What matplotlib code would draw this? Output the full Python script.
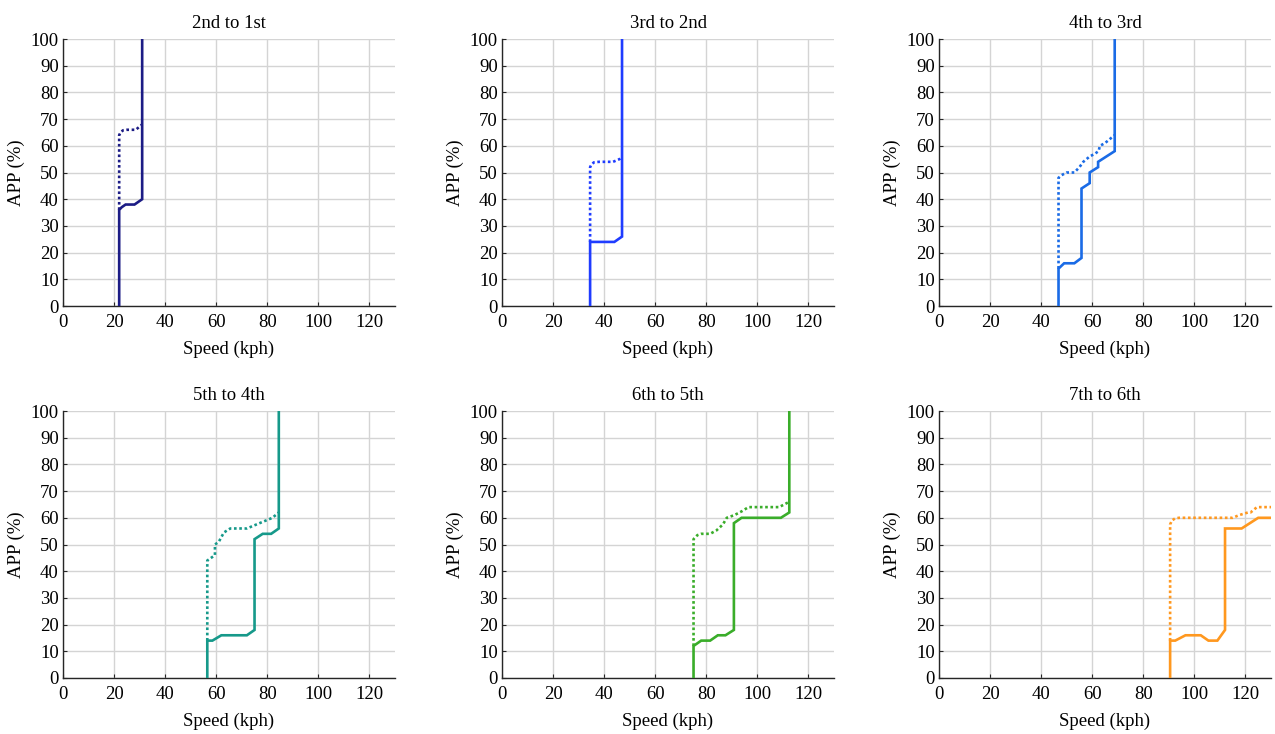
import matplotlib
matplotlib.use("Agg")
import matplotlib.pyplot as plt

plt.rcParams['font.family'] = ['Liberation Serif', 'DejaVu Serif']

titles = ["2nd to 1st", "3rd to 2nd", "4th to 3rd", "5th to 4th", "6th to 5th", "7th to 6th"]
colors = ["#1c1c85", "#1f3cff", "#1a6be6", "#16998a", "#3aad2a", "#ff981f"]

# solid (upshift-type) curves
solid_x = [
    [22, 22, 23, 24.5, 28, 31, 31],
    [34.5, 34.5, 44, 47, 47],
    [46.8, 46.8, 49, 53, 55.8, 55.8, 59, 59, 62.3, 62.3, 68.8, 68.8],
    [56.5, 56.5, 58.5, 62, 72, 75, 75, 78.2, 81.5, 84.5, 84.5],
    [75, 75, 78, 81.5, 84.5, 87.5, 90.8, 90.8, 93.8, 109.2, 112.5, 112.5],
    [90.5, 90.5, 92.5, 96.5, 102.5, 105.5, 109, 112, 112, 118.5, 125, 130],
]
solid_y = [
    [0, 36, 37, 38, 38, 40, 100],
    [0, 24, 24, 26, 100],
    [0, 14, 16, 16, 18, 44, 46, 50, 52, 54, 58, 100],
    [0, 14, 14, 16, 16, 18, 52, 54, 54, 56, 100],
    [0, 12, 14, 14, 16, 16, 18, 58, 60, 60, 62, 100],
    [0, 14, 14, 16, 16, 14, 14, 18, 56, 56, 60, 60],
]
# dotted curves
dot_x = [
    [22, 22, 22.5, 23.5, 25, 28.5, 31],
    [34.5, 34.5, 35, 36, 38, 43.5, 46, 47],
    [46.8, 46.8, 48, 50, 53, 55, 56.5, 59, 61, 62.5, 63, 65, 67.5, 68.8],
    [56.5, 56.5, 58, 59.5, 59.5, 61, 63, 65.5, 72, 74.5, 77, 79.5, 82, 84.5],
    [75, 75, 76.5, 78, 81.5, 84, 86.5, 88, 91, 94, 96.5, 108.5, 112.5],
    [90.5, 90.5, 91.2, 92.5, 94, 115, 117.5, 121, 122, 124.5, 130],
]
dot_y = [
    [36, 64, 65, 65.8, 66, 66, 68],
    [24, 52, 53, 53.8, 54, 54, 55, 56],
    [14, 48, 49, 50, 50, 52, 54, 56, 57, 58, 60, 61, 63, 64],
    [14, 44, 45, 46, 50, 51, 54.5, 56, 56, 57, 58, 59, 60, 62],
    [12, 52, 53.5, 54, 54, 55.3, 57.5, 60, 61, 62.5, 64, 64, 66],
    [14, 57.5, 59, 59.8, 60, 60, 61, 62, 62, 64, 64],
]

x_ticks = [0, 20, 40, 60, 80, 100, 120]
y_ticks = list(range(0, 101, 10))

fig = plt.figure(figsize=(12.75, 7.34), dpi=100)
W, H = 1275, 734
lefts = [63, 502, 939]
tops = [39, 411]
aw, ah = 332, 267

for i in range(6):
    r, c = divmod(i, 3)
    ax = fig.add_axes([lefts[c] / W, 1 - (tops[r] + ah) / H, aw / W, ah / H])
    ax.plot(solid_x[i], solid_y[i], color=colors[i], lw=1.9, solid_joinstyle='miter', zorder=3)
    ax.plot(dot_x[i], dot_y[i], color=colors[i], lw=1.9, ls=(0, (1, 1)), zorder=3)
    ax.set_xlim(0, 130)
    ax.set_ylim(0, 100)
    ax.set_xticks(x_ticks)
    ax.set_yticks(y_ticks)
    ax.grid(True, color='#d4d4d4', lw=1.0)
    ax.set_axisbelow(True)
    for s in ['top', 'right']:
        ax.spines[s].set_visible(False)
    for s in ['left', 'bottom']:
        ax.spines[s].set_color('#262626')
        ax.spines[s].set_linewidth(1.0)
    ax.tick_params(direction='in', length=3, width=0.8, colors='#262626', labelsize=13.5,
                   labelcolor='black')
    ax.tick_params(axis='x', pad=6)
    ax.tick_params(axis='y', pad=3)
    ax.set_title(titles[i], fontsize=13.5, pad=8)
    ax.set_xlabel("Speed (kph)", fontsize=13.5, labelpad=7)
    ax.set_ylabel("APP (%)", fontsize=13.5, labelpad=4)

fig.savefig("out.png", dpi=100)
